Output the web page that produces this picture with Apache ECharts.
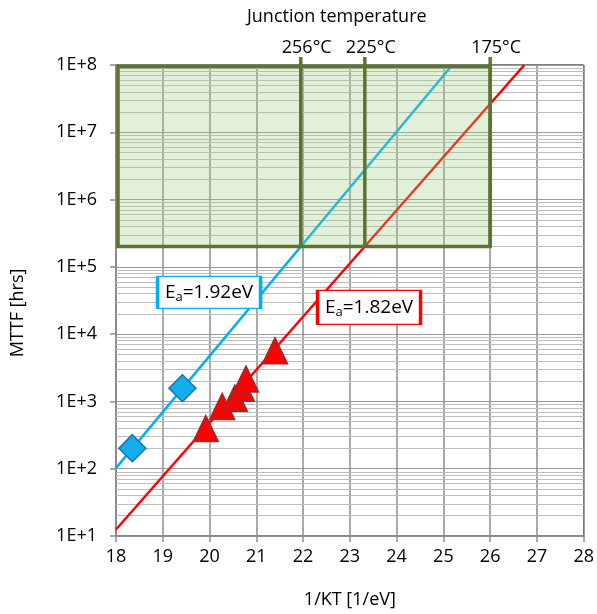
<!DOCTYPE html>
<html>
<head>
<meta charset="utf-8">
<script src="https://cdn.jsdelivr.net/npm/echarts@6/dist/echarts.min.js"></script>
<style>
  html, body { margin: 0; padding: 0; background: #fff; }
  #chart { width: 597px; height: 614px; }
</style>
</head>
<body>
<div id="chart"></div>
<script>
// Activation-energy fit lines (1/kT in 1/eV, MTTF in hours)
const blueLine = [[18, 102], [25.19, 1e8]];
const redLine = [[18, 12.5], [26.73, 1e8]];

// Measured lifetimes
const blueMarkers = [[18.35, 202], [19.42, 1570]];
const redMarkers = [
  [19.92, 395], [20.27, 843], [20.54, 1120],
  [20.69, 1570], [20.78, 2150], [21.4, 5650]
];

// Junction temperature markers and the shaded operating window
const tempPositions = [21.95, 23.32, 26.0];
const tempLabels = ['256°C', '225°C', '175°C'];
const zoneX = [18, 26];
const zoneY = [2e5, 1e8];

// Activation energies of the two fits
const eaValues = ['1.92eV', '1.82eV'];

// Decade exponents for log minor grid lines
const decades = [1, 2, 3, 4, 5, 6, 7];

const FONT = '"Open Sans", "DejaVu Sans", sans-serif';
const BLUE = '#00b0f0';
const RED = '#ff0000';
const OLIVE = '#5b7431';

const minorLines = [];
decades.forEach(function (k) {
  for (let m = 2; m <= 9; m++) minorLines.push({ yAxis: m * Math.pow(10, k) });
});

function eaRich() {
  return {
    E: { fontFamily: FONT, fontSize: 19, color: '#000', lineHeight: 22, verticalAlign: 'middle' },
    s: { fontFamily: FONT, fontSize: 13, color: '#000', lineHeight: 22, verticalAlign: 'bottom', padding: [8, 0, 0, 0] },
    t: { fontFamily: FONT, fontSize: 19, color: '#000', lineHeight: 22, verticalAlign: 'middle' }
  };
}

const chart = echarts.init(document.getElementById('chart'), null, { renderer: 'canvas' });

chart.setOption({
  animation: false,
  backgroundColor: '#fff',
  title: {
    text: 'Junction temperature',
    left: 242, top: 3,
    textStyle: { fontFamily: FONT, fontSize: 18, fontWeight: 'normal', color: '#000' }
  },
  graphic: [{
    // y-axis title
    type: 'text', x: 18, y: 313, rotation: Math.PI / 2,
    style: {
      text: 'MTTF [hrs]', fill: '#000', fontFamily: FONT, fontSize: 18,
      align: 'center', verticalAlign: 'middle'
    }
  }],
  grid: {
    left: 116, right: 13, top: 65, bottom: 75,
    show: true, borderColor: '#000', borderWidth: 1, backgroundColor: 'transparent'
  },
  xAxis: {
    type: 'value', min: 18, max: 28, interval: 1,
    name: '1/KT [1/eV]', nameLocation: 'middle', nameGap: 55,
    nameTextStyle: { fontFamily: FONT, fontSize: 18, color: '#000' },
    axisLine: { show: true, lineStyle: { color: '#8c8c8c', width: 1.5 } },
    axisTick: { show: true, length: 6, lineStyle: { color: '#8c8c8c', width: 1.5 } },
    axisLabel: { fontFamily: FONT, fontSize: 18, color: '#000', margin: 12 },
    splitLine: { show: true, lineStyle: { color: '#8c8c8c', width: 1.5 } }
  },
  yAxis: {
    type: 'log', logBase: 10, min: 10, max: 1e8,
    axisLine: { show: true, lineStyle: { color: '#8c8c8c', width: 1.5 } },
    axisTick: { show: true, length: 6, lineStyle: { color: '#8c8c8c', width: 1.5 } },
    axisLabel: {
      fontFamily: FONT, fontSize: 18, color: '#000', margin: 19,
      formatter: function (v) { return '1E+' + Math.round(Math.log10(v)); }
    },
    splitLine: { show: true, lineStyle: { color: '#9a9a9a', width: 1 } }
  },
  series: [
    {
      // log minor grid (2..9 in every decade)
      type: 'line', data: [], z: 1, silent: true,
      markLine: {
        z: 1, silent: true, symbol: ['none', 'none'], animation: false,
        label: { show: false },
        lineStyle: { color: '#bdbdbd', width: 1, type: 'solid' },
        data: minorLines
      }
    },
    {
      name: 'Ea 1.92', type: 'line', data: blueLine, z: 2,
      showSymbol: false, symbol: 'none',
      lineStyle: { color: BLUE, width: 2.5 }
    },
    {
      name: 'Ea 1.82', type: 'line', data: redLine, z: 2,
      showSymbol: false, symbol: 'none',
      lineStyle: { color: RED, width: 2.5 }
    },
    {
      type: 'scatter', data: blueMarkers, z: 3,
      symbol: 'diamond', symbolSize: 27,
      itemStyle: { color: '#12aeea', borderColor: '#1a6fb5', borderWidth: 1.5, opacity: 1 }
    },
    {
      type: 'scatter', data: redMarkers, z: 3,
      symbol: 'triangle', symbolSize: [25, 26],
      itemStyle: { color: RED, borderColor: '#9c2b2b', borderWidth: 1.5, opacity: 1 }
    },
    {
      // shaded window, temperature lines and labels drawn over the fits
      type: 'custom', z: 4, silent: true, clip: false,
      data: [[zoneX[0], zoneY[1]]],
      renderItem: function (params, api) {
        const tl = api.coord([zoneX[0], zoneY[1]]);
        const br = api.coord([zoneX[1], zoneY[0]]);
        const children = [{
          type: 'rect',
          shape: { x: tl[0] + 2, y: tl[1] + 1.5, width: br[0] - tl[0] - 2, height: br[1] - tl[1] - 1.5 },
          style: { fill: 'rgba(158,202,128,0.3)', stroke: OLIVE, lineWidth: 3.5 }
        }];
        tempPositions.forEach(function (t, i) {
          const p0 = api.coord([t, zoneY[0]]);
          const p1 = api.coord([t, zoneY[1]]);
          children.push({
            type: 'line',
            shape: { x1: p0[0], y1: p0[1], x2: p1[0], y2: p1[1] - 8 },
            style: { stroke: OLIVE, lineWidth: 3.5 }
          });
          children.push({
            type: 'text', x: p1[0] + 6, y: p1[1] - 8,
            style: {
              text: tempLabels[i], fill: '#000',
              fontFamily: FONT, fontSize: 18,
              align: 'center', verticalAlign: 'bottom'
            }
          });
        });
        return { type: 'group', children: children };
      }
    },
    {
      // activation energy labels
      type: 'scatter', data: [], z: 5, silent: true,
      markPoint: {
        z: 5, silent: true, animation: false,
        data: [
          {
            coord: [19.99, 4.17e4], symbol: 'rect', symbolSize: [103, 32],
            itemStyle: { color: '#fff', borderColor: BLUE, borderWidth: 2 },
            label: {
              show: true, position: 'inside',
              formatter: '{E|E}{s|a}{t|=' + eaValues[0] + '}', rich: eaRich()
            }
          },
          {
            coord: [23.41, 2.5e4], symbol: 'rect', symbolSize: [103, 34],
            itemStyle: { color: '#fff', borderColor: RED, borderWidth: 2 },
            label: {
              show: true, position: 'inside',
              formatter: '{E|E}{s|a}{t|=' + eaValues[1] + '}', rich: eaRich()
            }
          }
        ]
      }
    }
  ]
});
</script>
</body>
</html>
